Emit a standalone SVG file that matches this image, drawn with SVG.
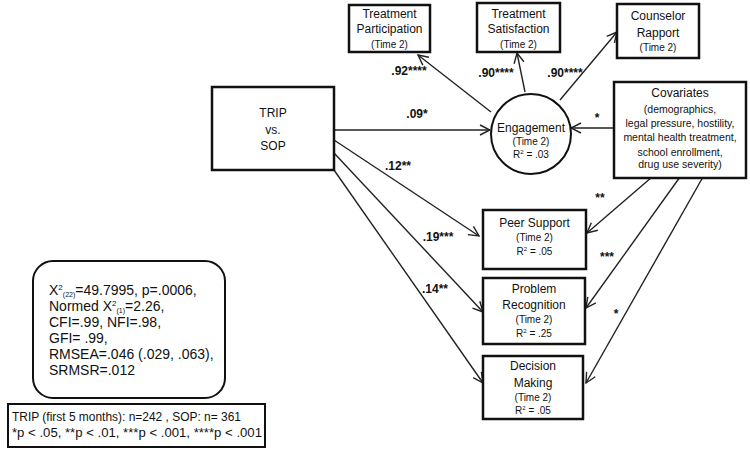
<svg xmlns="http://www.w3.org/2000/svg" width="750" height="458" viewBox="0 0 750 458">
<style>
text{font-family:"Liberation Sans",Arial,sans-serif;fill:#111;text-anchor:middle}
.box{fill:#fff;stroke:#111;stroke-width:2.5}
.t{font-size:12px}
.s{font-size:10px}
.c{font-size:10.5px}
.lab{font-size:12px;font-weight:bold}
.star{font-size:12px;font-weight:bold}
.fit{font-size:14px;text-anchor:start}
.fn{font-size:12px;text-anchor:start}
.ln{fill:none;stroke:#222;stroke-width:1.4}
</style>
<defs>
<marker id="ah" markerUnits="userSpaceOnUse" markerWidth="12" markerHeight="12" viewBox="0 0 12 12" refX="11" refY="6" orient="auto">
<path d="M1,1 L11,6 L1,11" fill="none" stroke="#222" stroke-width="1.4"/>
</marker>
</defs>
<rect width="750" height="458" fill="#fff"/>

<g id="connectors">
<line class="ln" x1="334" y1="130" x2="490" y2="130" marker-end="url(#ah)"/>
<line class="ln" x1="614" y1="128" x2="571" y2="128" marker-end="url(#ah)"/>
<line class="ln" x1="491" y1="112" x2="418" y2="55" marker-end="url(#ah)"/>
<line class="ln" x1="525" y1="92" x2="517" y2="53" marker-end="url(#ah)"/>
<line class="ln" x1="560" y1="100" x2="617" y2="32" marker-end="url(#ah)"/>
<line class="ln" x1="334" y1="140" x2="479" y2="236" marker-end="url(#ah)"/>
<line class="ln" x1="334" y1="153" x2="483" y2="312" marker-end="url(#ah)"/>
<line class="ln" x1="334" y1="170" x2="483" y2="383" marker-end="url(#ah)"/>
<line class="ln" x1="652" y1="177" x2="587" y2="233" marker-end="url(#ah)"/>
<line class="ln" x1="680" y1="177" x2="586" y2="308" marker-end="url(#ah)"/>
<line class="ln" x1="703" y1="177" x2="586" y2="383" marker-end="url(#ah)"/>
<text class="lab" x="417" y="118">.09*</text>
<text class="lab" x="398" y="170">.12**</text>
<text class="lab" x="438" y="241">.19***</text>
<text class="lab" x="435" y="293">.14**</text>
<text class="lab" x="409" y="75">.92****</text>
<text class="lab" x="496" y="77">.90****</text>
<text class="lab" x="565" y="77">.90****</text>
<text class="star" x="597" y="122">*</text>
<text class="star" x="600" y="202">**</text>
<text class="star" x="607" y="261">***</text>
<text class="star" x="616" y="318">*</text>
</g>

<g id="trip">
<rect class="box" x="212" y="87" width="122" height="83" stroke-width="2"/>
<text class="t" x="273" y="117">TRIP</text>
<text class="t" x="273" y="134">vs.</text>
<text class="t" x="273" y="150">SOP</text>
</g>

<g id="participation">
<rect class="box" x="349" y="5" width="81" height="47"/>
<text class="t" x="389.5" y="18">Treatment</text>
<text class="t" x="389.5" y="33">Participation</text>
<text class="s" x="389.5" y="48">(Time 2)</text>
</g>

<g id="satisfaction">
<rect class="box" x="477" y="3" width="83" height="49"/>
<text class="t" x="518.5" y="18">Treatment</text>
<text class="t" x="518.5" y="33">Satisfaction</text>
<text class="s" x="518.5" y="48">(Time 2)</text>
</g>

<g id="rapport">
<rect class="box" x="617" y="4" width="82" height="54"/>
<text class="t" x="658" y="20">Counselor</text>
<text class="t" x="658" y="37">Rapport</text>
<text class="s" x="658" y="51">(Time 2)</text>
</g>

<g id="engagement">
<circle cx="531" cy="134" r="40" fill="#fff" stroke="#111" stroke-width="2"/>
<text class="t" x="531" y="132">Engagement</text>
<text class="s" x="531" y="145">(Time 2)</text>
<text class="s" x="531" y="158">R<tspan font-size="6" dy="-4">2</tspan><tspan dy="4"> = .03</tspan></text>
</g>

<g id="covariates">
<rect class="box" x="614" y="82" width="132" height="96"/>
<text class="t" x="680" y="97">Covariates</text>
<text class="c" x="680" y="113">(demographics,</text>
<text class="c" x="680" y="127">legal pressure, hostility,</text>
<text class="c" x="680" y="141">mental health treatment,</text>
<text class="c" x="680" y="156">school enrollment,</text>
<text class="c" x="680" y="168">drug use severity)</text>
</g>

<g id="peer">
<rect class="box" x="483" y="210" width="103" height="59"/>
<text class="t" x="534.5" y="227">Peer Support</text>
<text class="s" x="534.5" y="241">(Time 2)</text>
<text class="s" x="534.5" y="255">R<tspan font-size="6" dy="-4">2</tspan><tspan dy="4"> = .05</tspan></text>
</g>

<g id="problem">
<rect class="box" x="483" y="278" width="102" height="66"/>
<text class="t" x="534" y="293">Problem</text>
<text class="t" x="534" y="309">Recognition</text>
<text class="s" x="534" y="323">(Time 2)</text>
<text class="s" x="534" y="337">R<tspan font-size="6" dy="-4">2</tspan><tspan dy="4"> = .25</tspan></text>
</g>

<g id="decision">
<rect class="box" x="483" y="356" width="100" height="63"/>
<text class="t" x="533" y="370">Decision</text>
<text class="t" x="533" y="387">Making</text>
<text class="s" x="533" y="401">(Time 2)</text>
<text class="s" x="533" y="414">R<tspan font-size="6" dy="-4">2</tspan><tspan dy="4"> = .05</tspan></text>
</g>

<g id="fit">
<rect x="33" y="261" width="192" height="137" rx="20" ry="20" fill="#fff" stroke="#111" stroke-width="2"/>
<text class="fit" x="49" y="295">X<tspan font-size="8" dy="-5">2</tspan><tspan font-size="7" dy="7">(22)</tspan><tspan dy="-2">=49.7995, p=.0006,</tspan></text>
<text class="fit" x="49" y="311">Normed X<tspan font-size="8" dy="-5">2</tspan><tspan font-size="7" dy="7">(1)</tspan><tspan dy="-2">=2.26,</tspan></text>
<text class="fit" x="49" y="327">CFI=.99, NFI=.98,</text>
<text class="fit" x="49" y="343">GFI= .99,</text>
<text class="fit" x="49" y="359">RMSEA=.046 (.029, .063),</text>
<text class="fit" x="49" y="375">SRMSR=.012</text>
</g>

<g id="footnote">
<rect x="8" y="404" width="257" height="43" fill="#fff" stroke="#111" stroke-width="2"/>
<text class="fn" x="12" y="421" textLength="229" lengthAdjust="spacingAndGlyphs">TRIP (first 5 months): n=242 , SOP: n= 361</text>
<text class="fn" x="12" y="437" textLength="250" lengthAdjust="spacingAndGlyphs">*p &lt; .05, **p &lt; .01, ***p &lt; .001, ****p &lt; .001</text>
</g>
</svg>
